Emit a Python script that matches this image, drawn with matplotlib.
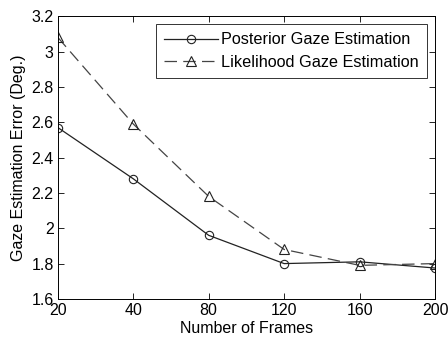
import matplotlib
matplotlib.use("Agg")
import matplotlib.pyplot as plt

# --- Data ---
frames = ["20", "40", "80", "120", "160", "200"]
posterior = [2.57, 2.28, 1.96, 1.80, 1.81, 1.775]
likelihood = [3.08, 2.59, 2.18, 1.88, 1.79, 1.80]

plt.rcParams['font.family'] = ['Liberation Sans', 'DejaVu Sans']

fig = plt.figure(figsize=(4.48, 3.44), dpi=100)
ax = fig.add_axes([0.129, 0.131, 0.842, 0.822])

x = list(range(len(frames)))
ax.plot(x, posterior, '-', color='#222222', lw=0.9, marker='o', ms=6,
        mfc='none', mec='#222222', mew=0.8, label='Posterior Gaze Estimation')
ax.plot(x, likelihood, '--', color='#444444', lw=0.9, dashes=(10, 5), marker='^', ms=7,
        mfc='none', mec='#222222', mew=0.8, label='Likelihood Gaze Estimation')

ax.set_xlim(0, len(frames) - 1)
ax.set_ylim(1.6, 3.2)
ax.set_xticks(x)
ax.set_xticklabels(frames)
ax.set_yticks([1.6, 1.8, 2.0, 2.2, 2.4, 2.6, 2.8, 3.0, 3.2])
ax.set_yticklabels(['1.6', '1.8', '2', '2.2', '2.4', '2.6', '2.8', '3', '3.2'])
ax.tick_params(direction='in', top=True, right=True, labelsize=11.5, length=4, width=0.6, pad=3)
for s in ax.spines.values():
    s.set_linewidth(0.7)

ax.set_xlabel('Number of Frames', fontsize=11.5, labelpad=2)
ax.set_ylabel('Gaze Estimation Error (Deg.)', fontsize=11.5, labelpad=4)

leg = ax.legend(loc='upper right', fontsize=11.7, frameon=True, fancybox=False,
                edgecolor='black', handlelength=3.3, borderpad=0.5, labelspacing=0.45,
                handletextpad=0.2, borderaxespad=0.5)
leg.get_frame().set_linewidth(0.7)

fig.savefig('out.png', dpi=100)
